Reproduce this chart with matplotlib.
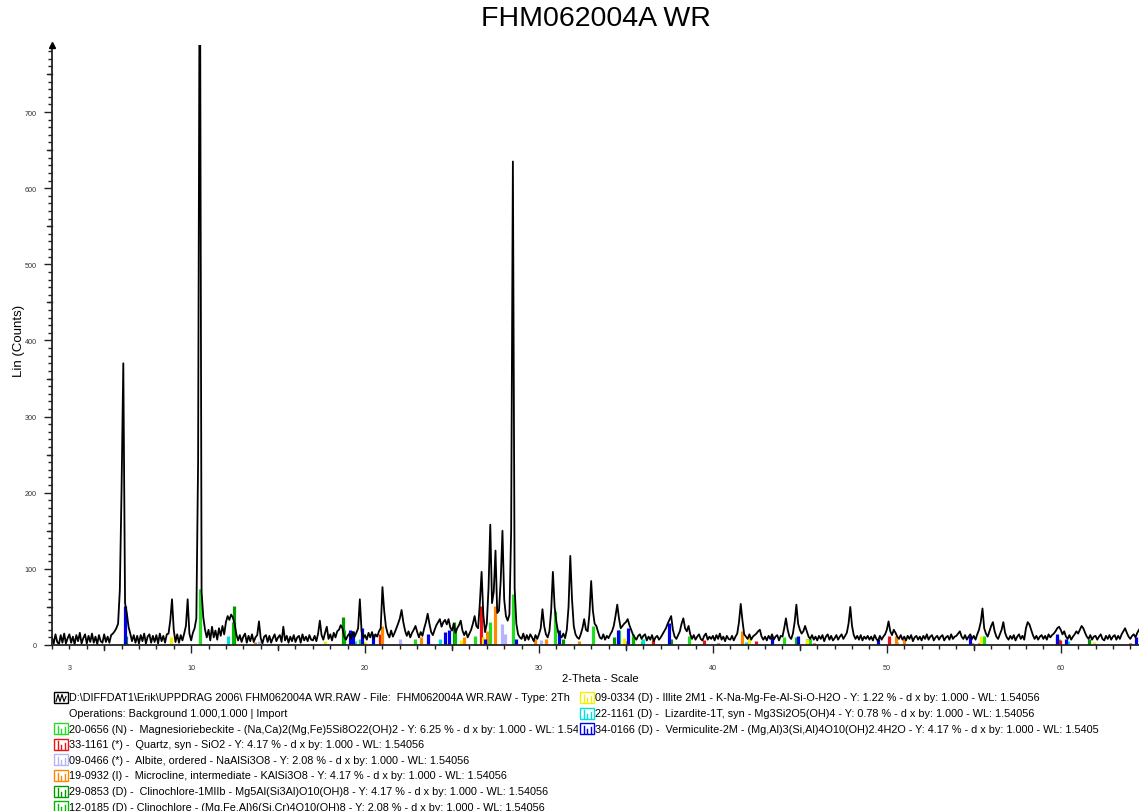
import numpy as np
import matplotlib
matplotlib.use("Agg")
import matplotlib.pyplot as plt
from matplotlib.patches import Rectangle
from matplotlib.ticker import FixedLocator, MultipleLocator

plt.rcParams['font.family'] = ['Liberation Sans', 'DejaVu Sans']

# ---------------------------------------------------------------- data
TITLE = "FHM062004A WR"
X_LABEL = "2-Theta - Scale"
Y_LABEL = "Lin (Counts)"
START_2THETA = 2.0
STEP_2THETA = 0.1
X_MAX = 64.5
Y_MAX = 788

counts_02_09 = [
    10, 2, 14, 4, 1, 13, 3, 15, 2, 9,
    14, 3, 11, 1, 13, 5, 16, 2, 9, 14,
    2, 12, 4, 15, 3, 11, 1, 13, 5, 3,
    14, 4, 11, 3, 13, 15, 18, 22, 28, 72,
    205, 370, 55, 42, 24, 15, 5, 13, 3, 12,
    2, 13, 5, 15, 2, 11, 14, 3, 12, 4,
    13, 2, 15, 5, 12, 3, 14, 15, 32, 60,
    20, 4, 14, 3, 13, 6, 15, 25, 60, 15,
]
counts_10_19 = [
    6, 16, 22, 35, 240, 1000, 70, 36, 20, 10,
    20, 6, 24, 10, 19, 7, 22, 12, 25, 14,
    30, 38, 33, 40, 36, 28, 14, 6, 13, 4,
    11, 15, 3, 12, 5, 14, 4, 10, 13, 31,
    9, 2, 11, 13, 4, 12, 3, 9, 14, 5,
    10, 13, 4, 24, 6, 12, 3, 11, 5, 13,
    4, 10, 12, 3, 14, 6, 11, 5, 13, 7,
    6, 12, 5, 15, 32, 13, 7, 16, 24, 8,
    14, 6, 16, 10, 18, 20, 26, 22, 11, 7,
    12, 15, 8, 17, 11, 16, 22, 60, 18, 9,
]
counts_20_29 = [
    13, 7, 16, 10, 17, 8, 14, 11, 18, 22,
    76, 45, 24, 15, 10, 19, 11, 16, 22, 28,
    35, 46, 30, 19, 12, 18, 10, 16, 20, 25,
    17, 10, 17, 12, 22, 30, 41, 28, 17, 13,
    20, 26, 30, 34, 24, 30, 33, 27, 34, 23,
    19, 28, 16, 22, 26, 32, 19, 13, 18, 10,
    15, 20, 28, 38, 25, 22, 55, 96, 40, 17,
    28, 75, 158, 55, 70, 124, 42, 45, 85, 150,
    60, 38, 32, 40, 150, 635, 75, 28, 14, 10,
    8, 15, 6, 13, 7, 14, 10, 5, 13, 8,
]
counts_30_39 = [
    14, 22, 47, 25, 14, 10, 18, 45, 96, 50,
    30, 17, 13, 10, 15, 9, 20, 50, 117, 60,
    25, 14, 10, 8, 14, 22, 34, 20, 18, 40,
    84, 45, 28, 25, 17, 10, 8, 14, 7, 12,
    9, 14, 18, 25, 38, 53, 35, 22, 25, 28,
    30, 34, 26, 20, 14, 10, 7, 12, 14, 8,
    12, 14, 6, 11, 7, 13, 5, 10, 12, 7,
    10, 14, 18, 22, 28, 33, 38, 20, 11, 8,
    13, 18, 28, 35, 22, 18, 25, 14, 8, 13,
    7, 11, 14, 8, 6, 12, 15, 7, 11, 8,
]
counts_40_49 = [
    12, 6, 13, 8, 15, 7, 11, 5, 12, 8,
    7, 12, 6, 11, 15, 30, 54, 32, 14, 11,
    8, 14, 7, 11, 13, 15, 18, 20, 11, 7,
    11, 6, 12, 8, 14, 7, 11, 13, 6, 12,
    11, 22, 35, 20, 11, 8, 15, 30, 53, 28,
    20, 15, 18, 25, 18, 11, 8, 13, 7, 11,
    6, 12, 8, 13, 5, 11, 14, 7, 12, 6,
    9, 13, 7, 11, 14, 8, 12, 16, 28, 50,
    25, 13, 8, 12, 7, 13, 6, 11, 8, 12,
    7, 11, 6, 13, 8, 5, 12, 7, 11, 14,
]
counts_50_59 = [
    20, 31, 18, 13, 20, 16, 11, 8, 13, 7,
    11, 6, 12, 8, 13, 5, 10, 12, 7, 11,
    6, 12, 8, 14, 7, 11, 13, 6, 10, 12,
    7, 11, 13, 6, 10, 12, 7, 14, 8, 11,
    12, 15, 18, 11, 8, 13, 7, 11, 14, 8,
    12, 7, 14, 20, 30, 48, 22, 15, 11, 18,
    25, 30, 18, 11, 8, 14, 20, 30, 16, 10,
    7, 12, 8, 13, 6, 11, 14, 8, 12, 7,
    22, 30, 27, 20, 13, 8, 12, 7, 11, 13,
    8, 12, 7, 14, 10, 13, 15, 18, 22, 24,
]
counts_60_64 = [
    20, 14, 18, 11, 8, 13, 7, 11, 14, 18,
    15, 20, 25, 22, 16, 11, 8, 13, 7, 11,
    12, 7, 11, 14, 8, 6, 12, 8, 13, 7,
    11, 13, 7, 12, 8, 14, 18, 22, 16, 11,
    8, 12, 14, 10, 16, 20,
]

# reference stick patterns (2-theta, height in counts)
magnesioriebeckite_pos = [10.5, 19.7, 22.9, 26.3, 27.2, 28.5, 30.9, 33.1, 34.6, 35.4, 38.6, 44.1, 45.6, 55.6, 59.9]
magnesioriebeckite_h = [73, 8, 8, 12, 30, 67, 45, 25, 20, 15, 12, 10, 8, 12, 8]
quartz_pos = [20.85, 26.65, 36.55, 39.5, 40.3, 42.45, 45.8, 50.15, 54.9, 55.3, 59.95, 64.0]
quartz_h = [15, 51, 6, 6, 3, 5, 3, 12, 3, 2, 7, 2]
albite_pos = [13.9, 22.0, 23.6, 24.3, 27.9, 28.05, 30.1, 35.0, 42.0, 50.6]
albite_h = [5, 8, 5, 6, 28, 14, 6, 5, 4, 4]
microcline_pos = [13.7, 21.0, 23.2, 25.7, 27.0, 27.45, 29.8, 30.4, 32.3, 35.0, 41.7, 50.5, 51.0]
microcline_h = [4, 25, 10, 10, 18, 51, 8, 8, 5, 5, 18, 12, 8]
clinochlore1_pos = [6.25, 12.45, 18.75, 25.1, 31.4, 34.3, 37.6, 45.4, 59.8, 61.6]
clinochlore1_h = [12, 51, 37, 30, 8, 10, 8, 8, 10, 8]
clinochlore2_pos = [6.2, 12.4, 18.8, 25.15, 35.4, 44.8]
clinochlore2_h = [8, 30, 20, 22, 10, 10]
illite_pos = [8.85, 17.7, 19.8, 20.0, 25.5, 26.8, 34.9, 35.9, 42.1, 45.4, 55.4, 61.9]
illite_h = [10, 5, 6, 4, 7, 10, 9, 8, 12, 8, 12, 4]
lizardite_pos = [12.1, 19.4, 24.3, 35.9, 36.0, 41.9, 60.4]
lizardite_h = [12, 5, 8, 5, 8, 4, 5]
vermiculite_pos = [6.2, 19.15, 19.3, 19.8, 20.45, 23.6, 24.6, 24.8, 26.9, 28.7, 31.15, 34.55, 35.1,
                   37.5, 43.4, 44.9, 49.5, 54.8, 59.8, 60.3, 64.3]
vermiculite_h = [51, 20, 18, 22, 14, 15, 17, 20, 8, 8, 20, 20, 22, 29, 10, 12, 8, 12, 14, 8, 10]

# legend texts, as far as they are visible in the chart
scan_line = "D:\\DIFFDAT1\\Erik\\UPPDRAG 2006\\ FHM062004A WR.RAW - File:  FHM062004A WR.RAW - Type: 2Th"
operations_line = "Operations: Background 1.000,1.000 | Import"
phase_labels = [
    "20-0656 (N) -  Magnesioriebeckite - (Na,Ca)2(Mg,Fe)5Si8O22(OH)2 - Y: 6.25 % - d x by: 1.000 - WL: 1.54",
    "33-1161 (*) -  Quartz, syn - SiO2 - Y: 4.17 % - d x by: 1.000 - WL: 1.54056",
    "09-0466 (*) -  Albite, ordered - NaAlSi3O8 - Y: 2.08 % - d x by: 1.000 - WL: 1.54056",
    "19-0932 (I) -  Microcline, intermediate - KAlSi3O8 - Y: 4.17 % - d x by: 1.000 - WL: 1.54056",
    "29-0853 (D) -  Clinochlore-1MIIb - Mg5Al(Si3Al)O10(OH)8 - Y: 4.17 % - d x by: 1.000 - WL: 1.54056",
    "12-0185 (D) - Clinochlore - (Mg,Fe,Al)6(Si,Cr)4O10(OH)8 - Y: 2.08 % - d x by: 1.000 - WL: 1.54056",
    "09-0334 (D) - Illite 2M1 - K-Na-Mg-Fe-Al-Si-O-H2O - Y: 1.22 % - d x by: 1.000 - WL: 1.54056",
    "22-1161 (D) -  Lizardite-1T, syn - Mg3Si2O5(OH)4 - Y: 0.78 % - d x by: 1.000 - WL: 1.54056",
    "34-0166 (D) -  Vermiculite-2M - (Mg,Al)3(Si,Al)4O10(OH)2.4H2O - Y: 4.17 % - d x by: 1.000 - WL: 1.5405",
]
phase_colors = ["#22dd22", "#ee1111", "#b4b4ff", "#ff8800", "#009a00", "#00bb00",
                "#f0f000", "#00e0e0", "#0000ee"]
phase_pos = [magnesioriebeckite_pos, quartz_pos, albite_pos, microcline_pos, clinochlore1_pos,
             clinochlore2_pos, illite_pos, lizardite_pos, vermiculite_pos]
phase_h = [magnesioriebeckite_h, quartz_h, albite_h, microcline_h, clinochlore1_h,
           clinochlore2_h, illite_h, lizardite_h, vermiculite_h]

counts = np.array(counts_02_09 + counts_10_19 + counts_20_29 + counts_30_39 +
                  counts_40_49 + counts_50_59 + counts_60_64, dtype=float)
two_theta = START_2THETA + STEP_2THETA * np.arange(len(counts))

# ---------------------------------------------------------------- figure
W, H = 1139, 812
fig = plt.figure(figsize=(W / 100, H / 100), dpi=100)
ax_l, ax_b, ax_t = 52, 646, 46
ax = fig.add_axes([ax_l / W, (H - ax_b) / H, 1 - ax_l / W, (ax_b - ax_t) / H])

for pos, hts, col in zip(phase_pos, phase_h, phase_colors):
    ax.vlines(pos, 0, hts, colors=col, linewidth=2.3, zorder=2)

ax.plot(two_theta, counts, color="black", linewidth=1.3, zorder=3)

ax.set_xlim(START_2THETA, X_MAX)
ax.set_ylim(0, Y_MAX)
for s in ("top", "right"):
    ax.spines[s].set_visible(False)
for s in ("left", "bottom"):
    ax.spines[s].set_linewidth(1.3)
    ax.spines[s].set_color("#222222")
    ax.spines[s].set_zorder(4)

ax.plot(0, 1.0, marker="^", markersize=5, color="black", transform=ax.transAxes,
        clip_on=False, zorder=5)

ax.xaxis.set_major_locator(FixedLocator([3, 10, 20, 30, 40, 50, 60]))
ax.xaxis.set_minor_locator(MultipleLocator(1))
ax.yaxis.set_major_locator(MultipleLocator(100))
ax.yaxis.set_minor_locator(MultipleLocator(10))
ax.tick_params(axis="both", which="major", length=6, width=1.0, labelsize=5.2,
               labelcolor="#333333", color="#222222")
ax.tick_params(axis="both", which="minor", length=3, width=1.0, color="#222222")
ax.tick_params(axis="x", which="major", pad=8)
ax.tick_params(axis="y", which="major", pad=5)
ax.xaxis.get_major_ticks()[0].tick1line.set_markersize(3)

axw = W - ax_l
axh = ax_b - ax_t
for v in range(50, Y_MAX, 100):
    ax.plot([-5 / axw, 0], [v, v], color="#222222", lw=1.0,
            transform=ax.get_yaxis_transform(), clip_on=False, zorder=4)
for v in range(5, int(X_MAX) + 1, 10):
    ax.plot([v, v], [-5 / axh, 0], color="#222222", lw=1.0,
            transform=ax.get_xaxis_transform(), clip_on=False, zorder=4)

fig.text((ax_l + W) / 2 / W, 1 - 19 / H, TITLE, ha="center", va="center", fontsize=20.5)
fig.text(600 / W, 1 - 679 / H, X_LABEL, ha="center", va="center", fontsize=8)
fig.text(19 / W, 1 - 341 / H, Y_LABEL, ha="center", va="center", fontsize=9.5, rotation=90)

# ---------------------------------------------------------------- legend
split = 578
right_clip = 1103
top_px = 688
axL = fig.add_axes([0, 0, split / W, (H - top_px) / H])
axR = fig.add_axes([split / W, 0, (right_clip - split) / W, (H - top_px) / H])
axL.set_xlim(0, split)
axL.set_ylim(H, top_px)
axR.set_xlim(split, right_clip)
axR.set_ylim(H, top_px)
for a in (axL, axR):
    a.axis("off")

row0 = 698.5
dy = 15.6


def icon(a, x, y, col, zig=False):
    a.add_patch(Rectangle((x, y - 5.5), 14, 11, fill=False, edgecolor=col, lw=1.0))
    if zig:
        a.plot([x + 2, x + 4, x + 6, x + 8, x + 10, x + 12],
               [y + 4, y - 3, y + 4, y - 3, y + 4, y - 1], color=col, lw=0.8)
    else:
        for dx, hh in ((3.5, 7.5), (7, 4), (10.5, 6)):
            a.plot([x + dx, x + dx], [y + 4.5, y + 4.5 - hh], color=col, lw=1.0)


rows_left = [(scan_line, "black", True), (operations_line, None, False)]
rows_left += [(t, c, False) for t, c in zip(phase_labels[:6], phase_colors[:6])]
for i, (txt, col, zig) in enumerate(rows_left):
    y = row0 + i * dy
    if col is not None:
        icon(axL, 54, y, col, zig)
    axL.text(69, y, txt, ha="left", va="center", fontsize=7.85, clip_on=True)

for i, (txt, col) in enumerate(zip(phase_labels[6:], phase_colors[6:])):
    y = row0 + i * dy
    icon(axR, 580, y, col)
    axR.text(595, y, txt, ha="left", va="center", fontsize=7.85, clip_on=True)

fig.savefig("out.png", dpi=100)
